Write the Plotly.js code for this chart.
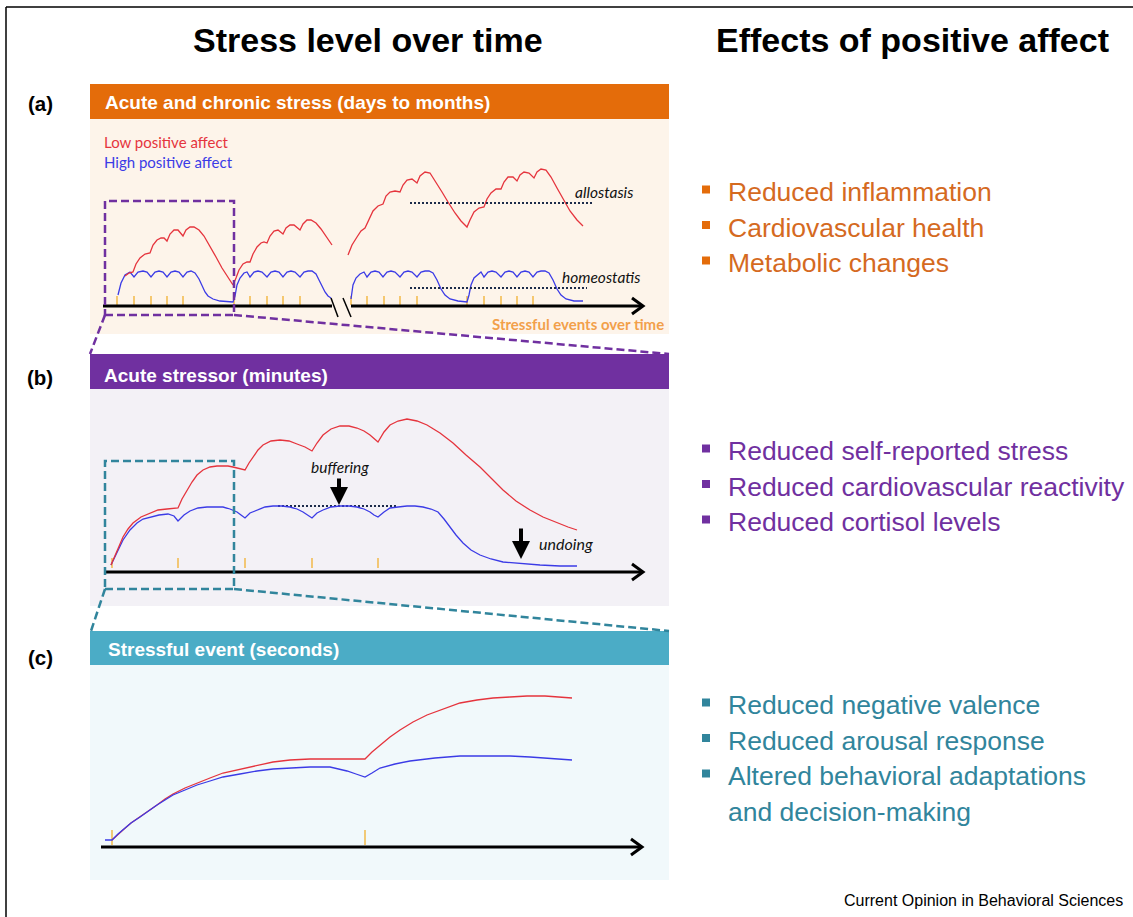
<!DOCTYPE html>
<html><head><meta charset="utf-8">
<script src="https://cdn.plot.ly/plotly-3.0.1.min.js"></script>
<style>html,body{margin:0;padding:0;background:#fff;}</style>
</head><body><div id="chart" style="width:1133px;height:917px;"></div>
<script>
// ================= DATA (time, stress level) =================
// Panel (a): acute and chronic stress (days to months)
const aEventTicks = [12,29,46,62,78,129,145,162,178,195,246,262,279,295,312,362,379,396,412,428];
const aLowEarly = [[20,30],[24,33],[28,34],[31,42],[35,48],[40,52],[45,53],[48,61],[52,66],[56,68],[59,68],[62,65],[65,72],[69,76],[73,76],[78,70],[81,76],[85,79],[89,79],[94,76],[99,70],[105,60],[111,49],[117,38],[123,28],[128,21],[131,28],[134,36],[138,42],[142,44],[145,44],[148,52],[152,59],[156,63],[159,64],[162,63],[165,70],[169,75],[173,76],[178,72],[181,78],[185,81],[189,81],[195,76],[198,82],[202,86],[206,86],[211,83],[216,77],[221,70],[227,61]];
const aLowLate = [[243,51],[247,61],[252,69],[256,75],[260,78],[264,87],[268,95],[273,100],[278,102],[281,110],[285,114],[290,115],[295,114],[298,121],[302,126],[307,127],[312,123],[315,130],[320,134],[325,133],[331,124],[337,114],[343,104],[350,93],[356,85],[362,79],[365,86],[369,94],[374,98],[379,99],[382,107],[386,113],[391,117],[396,117],[399,124],[403,129],[408,129],[412,125],[415,131],[419,134],[424,133],[429,128],[432,134],[436,137],[441,136],[446,129],[452,118],[458,107],[465,95],[472,86],[478,80]];
const aHighEarly = [[13,11],[16,23],[20,31],[25,34],[29,29],[33,34],[38,35],[42,34],[46,29],[50,34],[54,35],[58,34],[62,29],[66,34],[70,35],[74,34],[78,29],[82,34],[86,35],[90,33],[94,27],[97,21],[100,14],[103,10],[108,7],[115,5],[128,4],[130,10],[132,21],[135,28],[139,33],[142,34],[145,29],[149,34],[153,35],[157,34],[162,29],[166,34],[170,35],[174,34],[178,29],[182,34],[186,35],[190,34],[195,29],[199,34],[203,35],[207,35],[211,32],[214,26],[217,20],[220,14],[223,10],[226,8]];
const aHighLate = [[246,7],[248,21],[251,28],[255,32],[259,34],[262,29],[266,34],[270,35],[274,34],[278,29],[282,34],[286,35],[290,34],[295,29],[299,34],[303,35],[307,34],[312,29],[316,34],[320,35],[324,35],[328,33],[332,26],[336,17],[340,11],[345,7],[353,5],[362,4],[364,11],[366,21],[369,28],[373,32],[376,34],[379,29],[383,34],[387,35],[391,34],[396,29],[400,34],[404,35],[408,34],[412,29],[416,34],[420,35],[424,34],[428,29],[432,34],[436,35],[440,35],[444,33],[448,26],[452,17],[456,11],[461,7],[469,5],[478,5]];
const aAllostasis = {x:[305,488], level:103};
const aHomeostasis = {x:[305,482], level:18};

// Panel (b): acute stressor (minutes)
const bEventTicks = [7,73,140,207,273];
const bLow = [[6,7],[12,21],[18,35],[23,43],[28,49],[36,55],[45,59],[53,62],[62,63],[73,64],[77,73],[82,82],[87,90],[92,97],[98,102],[105,105],[112,106],[118,106],[123,106],[128,105],[140,102],[144,109],[148,115],[153,122],[158,127],[166,131],[175,132],[184,131],[192,128],[200,125],[207,121],[212,129],[218,137],[226,143],[235,146],[244,146],[252,144],[259,141],[265,137],[273,130],[279,140],[285,147],[293,151],[302,153],[312,151],[322,147],[335,139],[348,129],[361,117],[375,105],[387,93],[398,82],[411,71],[425,62],[438,55],[452,49],[463,45],[472,42]];
const bHigh = [[6,7],[12,20],[18,32],[25,42],[32,49],[38,53],[45,55],[54,57],[63,58],[69,56],[73,51],[79,57],[85,61],[93,64],[102,65],[110,65],[118,65],[125,63],[132,60],[136,57],[140,54],[145,59],[152,62],[160,65],[168,66],[177,66],[185,65],[192,63],[198,60],[203,57],[207,54],[212,59],[218,62],[226,65],[235,66],[244,66],[252,65],[259,63],[265,60],[269,57],[273,55],[279,60],[285,64],[293,65],[302,66],[310,66],[318,65],[326,63],[333,60],[339,53],[345,45],[351,37],[358,29],[366,22],[375,17],[386,13],[398,10],[408,9],[418,8],[435,7],[455,6],[472,6]];
const bBuffering = {x:[173,292], level:66, arrowAt:234};
const bUndoing = {arrowAt:416, from:45, to:13};

// Panel (c): stressful event (seconds)
const cEventTicks = [7,260];
const cLow = [[7,7],[13,13],[18,17],[26,24],[35,30],[43,36],[52,42],[60,48],[68,53],[80,59],[92,64],[105,69],[118,74],[135,78],[152,82],[168,85],[185,87],[205,88],[225,88],[245,88],[260,88],[267,95],[275,102],[285,110],[295,117],[308,125],[322,132],[338,138],[355,144],[372,147],[388,149],[405,150],[422,151],[440,151],[455,150],[467,149]];
const cHigh = [[0,7],[7,7],[13,13],[18,17],[26,24],[35,30],[43,36],[52,42],[60,47],[68,52],[80,57],[92,62],[105,66],[118,70],[135,73],[152,76],[168,78],[185,79],[205,80],[225,80],[235,78],[242,76],[251,73],[260,70],[267,74],[275,79],[290,83],[305,86],[330,89],[355,91],[380,91],[405,91],[425,90],[438,89],[453,88],[467,87]];

// Text content
const panelTitles = ["Acute and chronic stress (days to months)", "Acute stressor (minutes)", "Stressful event (seconds)"];
const panelLabels = ["(a)", "(b)", "(c)"];
const effectsA = ["Reduced inflammation", "Cardiovascular health", "Metabolic changes"];
const effectsB = ["Reduced self-reported stress", "Reduced cardiovascular reactivity", "Reduced cortisol levels"];
const effectsC = ["Reduced negative valence", "Reduced arousal response", "Altered behavioral adaptations", "and decision-making"];

// ================= DRAWING =================
const W = 1133, H = 917;
const PX = x => x / W, PY = y => 1 - y / H;
const RED = '#E5343D', BLUE = '#3B3BE6', TICK = '#F2B02E';
const ORANGE = '#E46C0A', PURPLE = '#7030A0', TEAL = '#4BACC6', TEALD = '#31859C';

function curve(pts, ax, color) {
  return {x: pts.map(p => p[0]), y: pts.map(p => p[1]), xaxis: 'x' + ax, yaxis: 'y' + ax,
    mode: 'lines', line: {color: color, width: 1.3}, hoverinfo: 'skip', showlegend: false};
}
function ticks(arr, ax, lo, hi) {
  const x = [], y = [];
  arr.forEach(t => { x.push(t, t, null); y.push(lo, hi, null); });
  return {x, y, xaxis: 'x' + ax, yaxis: 'y' + ax, mode: 'lines', line: {color: TICK, width: 1.3}, hoverinfo: 'skip', showlegend: false};
}
function level(obj, ax) {
  return {x: obj.x, y: obj.x.map(() => obj.level), xaxis: 'x' + ax, yaxis: 'y' + ax, mode: 'lines',
    line: {color: '#1C2B4A', width: 2, dash: '2px,2px'}, hoverinfo: 'skip', showlegend: false};
}

const traces = [
  ticks(aEventTicks, '', 1, 10),
  curve(aHighEarly, '', BLUE), curve(aHighLate, '', BLUE),
  curve(aLowEarly, '', RED), curve(aLowLate, '', RED),
  level(aAllostasis, ''), level(aHomeostasis, ''),
  ticks(bEventTicks, '2', 4, 14),
  level(bBuffering, '2'),
  curve(bHigh, '2', BLUE), curve(bLow, '2', RED),
  ticks(cEventTicks, '3', 2, 17),
  curve(cLow, '3', RED), curve(cHigh, '3', BLUE)
];

const shapes = [];
const annotations = [];
function prect(x0, y0, x1, y1, fill, layer) {
  shapes.push({type: 'rect', xref: 'paper', yref: 'paper', x0: PX(x0), x1: PX(x1), y0: PY(y1), y1: PY(y0),
    fillcolor: fill, line: {width: 0}, layer: layer || 'below'});
}
function pline(x0, y0, x1, y1, color, width, dash) {
  shapes.push({type: 'line', xref: 'paper', yref: 'paper', x0: PX(x0), x1: PX(x1), y0: PY(y0), y1: PY(y1),
    line: {color: color, width: width, dash: dash || 'solid'}, layer: 'above'});
}
function ptext(text, x, y, size, color, anchor, family, bold) {
  annotations.push({xref: 'paper', yref: 'paper', x: PX(x), y: PY(y), text: bold ? '<b>' + text + '</b>' : text,
    showarrow: false, xanchor: anchor || 'left', yanchor: 'middle',
    font: {family: family || 'Liberation Sans, Arial, sans-serif', size: size, color: color}});
}

// outer frame
pline(6, 7, 1133, 7, '#000', 1.5);
pline(6, 7, 6, 917, '#000', 1.5);

// panel backgrounds + headers
prect(90, 119, 669, 334, '#FDF4EA');
prect(90, 84, 669, 119, ORANGE);
prect(90, 389, 669, 606, '#F3F1F6');
prect(90, 354, 669, 389, PURPLE);
prect(90, 665, 669, 880, '#F1F9FB');
prect(90, 631, 669, 665, TEAL);

// axes (time arrows) in data coordinates
function axisLine(ax, x0, x1, withArrow) {
  shapes.push({type: 'line', xref: 'x' + ax, yref: 'y' + ax, x0: x0, x1: x1, y0: 0, y1: 0, line: {color: '#000', width: 3}, layer: 'above'});
  if (withArrow) shapes.push({type: 'path', xref: 'x' + ax, yref: 'y' + ax, xsizemode: 'pixel', ysizemode: 'pixel',
    xanchor: x1, yanchor: 0, path: 'M-11,8 L0,0 L-11,-8', line: {color: '#000', width: 3}, layer: 'above'});
}
axisLine('', -2, 227, false);
axisLine('', 246, 538, true);
shapes.push({type: 'line', xref: 'x', yref: 'y', x0: 226, x1: 233, y0: 8, y1: -11, line: {color: '#000', width: 1.5}});
shapes.push({type: 'line', xref: 'x', yref: 'y', x0: 238, x1: 246, y0: 8, y1: -11, line: {color: '#000', width: 1.5}});
axisLine('2', 0, 538, true);
axisLine('3', -4, 537, true);

// zoom boxes
shapes.push({type: 'rect', xref: 'x', yref: 'y', x0: 0, x1: 129, y0: -9, y1: 105, line: {color: PURPLE, width: 2.5, dash: '8px,4px'}, layer: 'above'});
pline(105, 315, 90, 354, PURPLE, 2.5, '8px,4px');
pline(234, 315, 669, 354, PURPLE, 2.5, '8px,4px');
shapes.push({type: 'rect', xref: 'x2', yref: 'y2', x0: 0, x1: 129, y0: -17, y1: 111, line: {color: TEALD, width: 2.5, dash: '8px,4px'}, layer: 'above'});
pline(105, 589, 91, 631, TEALD, 2.5, '8px,4px');
pline(234, 589, 669, 631, TEALD, 2.5, '8px,4px');

// titles
ptext('Stress level over time', 368, 40, 34, '#000', 'center', null, true);
ptext('Effects of positive affect', 912, 40, 34, '#000', 'center', null, true);
const labelY = [104, 377, 657], headY = [102, 375, 649], headX = [103, 102, 106];
panelLabels.forEach((t, i) => ptext(t, 40, labelY[i], 20.5, '#000', 'center', null, true));
panelTitles.forEach((t, i) => ptext(t, headX[i], headY[i], 19, '#fff', 'left', null, true));

// panel (a) texts
const calib = 'Lato, Carlito, Open Sans, sans-serif';
annotations.push({xref: 'x', yref: 'y', x: -3, y: 164, text: 'Low positive affect', showarrow: false, xanchor: 'left', yanchor: 'middle', font: {family: calib, size: 15, color: RED}});
annotations.push({xref: 'x', yref: 'y', x: -3, y: 144, text: 'High positive affect', showarrow: false, xanchor: 'left', yanchor: 'middle', font: {family: calib, size: 15, color: BLUE}});
annotations.push({xref: 'x', yref: 'y', x: 561, y: -18, text: '<b>Stressful events over time</b>', showarrow: false, xanchor: 'right', yanchor: 'middle', font: {family: calib, size: 15, color: '#F2A04A'}});
annotations.push({xref: 'x', yref: 'y', x: 468, y: 114, text: '<i>allostasis</i>', showarrow: false, xanchor: 'left', yanchor: 'middle', font: {family: calib, size: 15.5, color: '#111'}});
annotations.push({xref: 'x', yref: 'y', x: 455, y: 29, text: '<i>homeostatis</i>', showarrow: false, xanchor: 'left', yanchor: 'middle', font: {family: calib, size: 15.5, color: '#111'}});

// panel (b) texts and arrows
annotations.push({xref: 'x2', yref: 'y2', x: bBuffering.arrowAt + 1, y: 105, text: '<i>buffering</i>', showarrow: false, xanchor: 'center', yanchor: 'middle', font: {family: calib, size: 15.5, color: '#111'}});
annotations.push({xref: 'x2', yref: 'y2', x: bBuffering.arrowAt, y: bBuffering.level + 1, ax: bBuffering.arrowAt, ay: 95, axref: 'x2', ayref: 'y2', text: '', showarrow: true, arrowhead: 2, arrowsize: 0.9, arrowwidth: 4, arrowcolor: '#000'});
annotations.push({xref: 'x2', yref: 'y2', x: 432, y: 29, text: '<i>undoing</i>', showarrow: false, xanchor: 'left', yanchor: 'middle', font: {family: calib, size: 16, color: '#111'}});
annotations.push({xref: 'x2', yref: 'y2', x: bUndoing.arrowAt, y: bUndoing.to, ax: bUndoing.arrowAt, ay: bUndoing.from, axref: 'x2', ayref: 'y2', text: '', showarrow: true, arrowhead: 2, arrowsize: 0.9, arrowwidth: 4, arrowcolor: '#000'});

// right column lists
function list(items, y0, textColor, bulletColor, noBulletLast) {
  items.forEach((t, i) => {
    const y = y0 + i * 35.5;
    if (!(noBulletLast && i === items.length - 1)) prect(702, y - 6.5, 710, y + 1.5, bulletColor, 'above');
    ptext(t, 726, y, 26.5, textColor, 'left');
  });
}
list(effectsA, 192, '#D56A1F', ORANGE, false);
list(effectsB, 451, PURPLE, PURPLE, false);
list(effectsC, 705, TEALD, TEALD, true);

ptext('Current Opinion in Behavioral Sciences', 1125, 900, 16, '#000', 'right');

const ax = (dom, rng, anchor) => ({domain: dom, range: rng, visible: false, showgrid: false, zeroline: false, fixedrange: true, anchor: anchor});
const layout = {
  width: W, height: H, margin: {l: 0, r: 0, t: 0, b: 0},
  paper_bgcolor: '#fff', plot_bgcolor: 'rgba(0,0,0,0)', showlegend: false,
  xaxis: ax([PX(90), PX(669)], [-15, 564], 'y'),
  yaxis: ax([PY(334), PY(119)], [-28, 187], 'x'),
  xaxis2: ax([PX(90), PX(669)], [-15, 564], 'y2'),
  yaxis2: ax([PY(606), PY(389)], [-34, 183], 'x2'),
  xaxis3: ax([PX(90), PX(669)], [-15, 564], 'y3'),
  yaxis3: ax([PY(880), PY(665)], [-33, 182], 'x3'),
  shapes: shapes, annotations: annotations
};
Plotly.newPlot('chart', traces, layout, {staticPlot: true, displayModeBar: false});
</script>
</body></html>
